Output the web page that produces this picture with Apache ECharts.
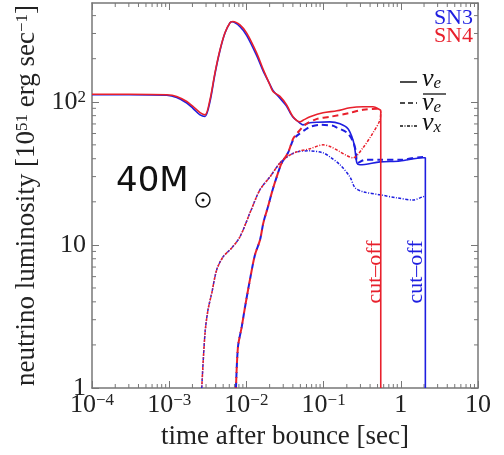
<!DOCTYPE html>
<html>
<head>
<meta charset="utf-8">
<script src="https://cdn.jsdelivr.net/npm/echarts@6/dist/echarts.min.js"></script>
<style>
html, body { margin: 0; padding: 0; background: #fff; }
#main { width: 504px; height: 455px; }
</style>
</head>
<body>
<div id="main"></div>
<script>
// [time after bounce (s), luminosity (1e51 erg/s)]
var sn3_nue = [[1e-4,112],[3e-4,112],[9.3e-4,111],[1.25e-3,107],[1.69e-3,98],[2.03e-3,90],[2.51e-3,81],[2.91e-3,78.9],[3.37e-3,100],[3.92e-3,157],[4.55e-3,228],[5.28e-3,302],[6.14e-3,357],[6.5e-3,362],[8.26e-3,335],[1.01e-2,290],[1.36e-2,210],[1.64e-2,165],[2.02e-2,132],[2.21e-2,120],[2.72e-2,106],[3.32e-2,93],[3.67e-2,84],[4.02e-2,78],[4.94e-2,71],[5.41e-2,69],[6.67e-2,71.3],[8.22e-2,72],[0.121,72.4],[0.163,70.2],[0.207,64.8],[0.24,54.2],[0.255,46.2],[0.27,37.4],[0.296,36.3],[0.538,38],[0.977,38.6],[1.94,40.6],[2.08,40.6],[2.08,1]];
var sn4_nue = [[1e-4,113],[3e-4,113],[9.3e-4,112],[1.25e-3,109],[1.69e-3,100.5],[2.03e-3,92.7],[2.51e-3,84],[2.91e-3,81],[3.37e-3,103],[3.92e-3,160],[4.55e-3,231],[5.28e-3,304],[6.14e-3,357],[6.65e-3,364],[8.26e-3,345],[1.01e-2,302],[1.36e-2,219],[1.66e-2,167],[2.02e-2,131],[2.21e-2,118],[2.72e-2,109],[3.32e-2,95],[4.02e-2,78.5],[4.94e-2,72.4],[5.6e-2,75],[6.67e-2,78.5],[9.82e-2,83.7],[0.149,86.5],[0.22,90.8],[0.324,92.2],[0.436,92.2],[0.538,87.9],[0.55,86.5],[0.55,1]];
var sn3_anue = [[7.33e-3,1],[7.78e-3,1.94],[8.69e-3,2.67],[9.6e-3,3.68],[1.11e-2,5.69],[1.29e-2,8.51],[1.5e-2,10.8],[1.66e-2,14.3],[1.9e-2,18.4],[2.13e-2,23.1],[2.47e-2,29.9],[2.87e-2,37.4],[3.46e-2,44],[4.02e-2,54],[4.52e-2,58],[5.75e-2,63.7],[6.67e-2,66.8],[8.98e-2,69],[0.132,68],[0.149,66],[0.2,61],[0.24,53],[0.262,45],[0.275,37.4],[0.344,39.3],[0.538,39.3],[0.977,39.3],[1.94,41.2],[2.08,41.2]];
var sn4_anue = [[7.33e-3,1],[7.78e-3,1.94],[8.69e-3,2.67],[9.6e-3,3.68],[1.11e-2,5.69],[1.29e-2,8.51],[1.5e-2,10.8],[1.66e-2,14.3],[1.9e-2,18.4],[2.13e-2,23.1],[2.47e-2,29.9],[2.87e-2,37.4],[3.46e-2,44],[4.02e-2,55],[4.52e-2,60],[5.75e-2,69],[8.22e-2,76],[0.121,78.5],[0.22,83.7],[0.324,87.9],[0.49,89.3],[0.55,88]];
var sn3_nux = [[2.64e-3,1],[2.91e-3,2.42],[3.18e-3,3.51],[3.56e-3,4.61],[4.12e-3,6.68],[4.98e-3,8.24],[6.45e-3,9.52],[8.26e-3,11.4],[1.11e-2,16.7],[1.5e-2,24.3],[2.02e-2,29.9],[2.72e-2,37.4],[3.36e-2,41.2],[4.52e-2,44.7],[6.67e-2,45.4],[9.82e-2,44],[0.121,41.2],[0.163,36.3],[0.22,29.8],[0.255,25.1],[0.324,23.5],[0.538,22.4],[0.893,21.3],[1.44,20.6],[1.94,21.7],[2.08,22]];
var sn4_nux = [[2.64e-3,1],[2.91e-3,2.42],[3.18e-3,3.51],[3.56e-3,4.61],[4.12e-3,6.68],[4.98e-3,8.24],[6.45e-3,9.52],[8.26e-3,11.4],[1.11e-2,16.7],[1.5e-2,24.3],[2.02e-2,29.9],[2.72e-2,37.4],[3.36e-2,41.2],[4.52e-2,44.7],[6.67e-2,47],[9.82e-2,50],[0.121,48.7],[0.16,45],[0.2,42],[0.24,40.6],[0.324,47.7],[0.436,60.7],[0.538,74.8],[0.55,86]];

var xMin = 1e-4, xMax = 10;
var yMin = 1, yMax = 490;

var RED = '#e8202c', BLUE = '#1e1ee0', FRAME = '#777';
var SERIF = 'Liberation Serif';

// minor tick values 2..9 per decade
var xMinor = [], yMinor = [];
for (var d = -4; d < 1; d++) for (var k = 2; k < 10; k++) xMinor.push([k * Math.pow(10, d), 1]);
for (var d2 = 0; d2 < 3; d2++) for (var k2 = 2; k2 < 10; k2++) if (k2 * Math.pow(10, d2) < yMax) yMinor.push([1e-4, k2 * Math.pow(10, d2)]);

function powLabel(v) {
    var e = Math.round(Math.log10(v));
    if (e === 0) return '{b|1}';
    if (e === 1) return '{b|10}';
    return '{b|10}{s|' + (e < 0 ? '\u2212' + (-e) : e) + '}';
}

var labelRich = {
    b: { fontSize: 26, fontFamily: SERIF, color: '#222', lineHeight: 26 },
    s: { fontSize: 17, fontFamily: SERIF, color: '#222', verticalAlign: 'top', lineHeight: 16 }
};

function minorXItem(params, api) {
    var cs = params.coordSys;
    var x = api.coord([api.value(0), 1])[0];
    var b = cs.y + cs.height, t = cs.y;
    return { type: 'group', children: [
        { type: 'line', shape: { x1: x, y1: b, x2: x, y2: b - 4 }, style: { stroke: FRAME, lineWidth: 1 } },
        { type: 'line', shape: { x1: x, y1: t, x2: x, y2: t + 4 }, style: { stroke: FRAME, lineWidth: 1 } }
    ]};
}
function minorYItem(params, api) {
    var cs = params.coordSys;
    var y = api.coord([1e-4, api.value(1)])[1];
    var l = cs.x, r = cs.x + cs.width;
    return { type: 'group', children: [
        { type: 'line', shape: { x1: l, y1: y, x2: l + 4, y2: y }, style: { stroke: FRAME, lineWidth: 1 } },
        { type: 'line', shape: { x1: r, y1: y, x2: r - 4, y2: y }, style: { stroke: FRAME, lineWidth: 1 } }
    ]};
}

function lineSeries(name, data, color, type, width, offset) {
    return {
        name: name, type: 'line', data: data, showSymbol: false, symbol: 'none',
        smooth: 0.3, animation: false,
        lineStyle: { color: color, width: width, type: type, dashOffset: offset || 0 }
    };
}

var axisLine = { show: true, lineStyle: { color: FRAME, width: 1.5 } };
var majorTick = { show: true, inside: true, length: 7, lineStyle: { color: FRAME, width: 1 } };
var nuRich = {
    n: { fontSize: 26, fontStyle: 'italic', fontFamily: SERIF, fill: '#111' },
    s: { fontSize: 17, fontStyle: 'italic', fontFamily: SERIF, fill: '#111', verticalAlign: 'bottom' }
};

var chart = echarts.init(document.getElementById('main'));
option = {
    animation: false,
    grid: { left: 92, right: 26, top: 3, bottom: 67, containLabel: false, outerBoundsMode: 'none' },
    xAxis: [{
        type: 'log', logBase: 10, min: xMin, max: xMax,
        axisLine: axisLine, axisTick: majorTick, splitLine: { show: false },
        axisLabel: { formatter: powLabel, rich: labelRich, margin: 4, showMinLabel: true, showMaxLabel: true },
        name: 'time after bounce [sec]', nameLocation: 'middle', nameGap: 35,
        nameTextStyle: { fontSize: 27, fontFamily: SERIF, color: '#222' }
    }, {
        type: 'log', logBase: 10, min: xMin, max: xMax, position: 'top',
        axisLine: axisLine, axisTick: majorTick, axisLabel: { show: false }, splitLine: { show: false }
    }],
    yAxis: [{
        type: 'log', logBase: 10, min: yMin, max: yMax,
        axisLine: axisLine, axisTick: majorTick, splitLine: { show: false },
        axisLabel: { formatter: powLabel, rich: labelRich, margin: 6, showMaxLabel: false },
        name: '{t|neutrino luminosity [10}{s|51}{t| erg sec}{s|\u22121}{t|]}',
        nameLocation: 'middle', nameRotate: 90, nameGap: 30,
        nameTextStyle: { rich: {
            t: { fontSize: 27, fontFamily: SERIF, color: '#222', lineHeight: 27 },
            s: { fontSize: 17, fontFamily: SERIF, color: '#222', verticalAlign: 'top', lineHeight: 16 }
        } }
    }, {
        type: 'log', logBase: 10, min: yMin, max: yMax, position: 'right',
        axisLine: axisLine, axisTick: majorTick, axisLabel: { show: false }, splitLine: { show: false }
    }],
    series: [
        lineSeries('SN3 nue', sn3_nue, BLUE, 'solid', 1.6),
        lineSeries('SN3 anue', sn3_anue, BLUE, [6, 4], 2),
        lineSeries('SN3 nux', sn3_nux, BLUE, [3, 1.5, 1, 1.5], 1.5),
        lineSeries('SN4 nue', sn4_nue, RED, 'solid', 1.6),
        lineSeries('SN4 anue', sn4_anue, RED, [6, 4], 2, 5),
        lineSeries('SN4 nux', sn4_nux, RED, [3, 1.5, 1, 1.5], 1.5, 3),
        { type: 'custom', data: xMinor, renderItem: minorXItem, silent: true, animation: false },
        { type: 'custom', data: yMinor, renderItem: minorYItem, silent: true, animation: false }
    ],
    graphic: [
        { type: 'text', right: 31, top: 7, style: { text: 'SN3', fill: BLUE, font: '22px "Liberation Serif"' } },
        { type: 'text', right: 31, top: 25, style: { text: 'SN4', fill: RED, font: '22px "Liberation Serif"' } },
        // legend keys
        { type: 'line', shape: { x1: 400, y1: 82, x2: 417, y2: 82 }, style: { stroke: '#111', lineWidth: 1.5 } },
        { type: 'line', shape: { x1: 400, y1: 103, x2: 417, y2: 103 }, style: { stroke: '#111', lineWidth: 1.5, lineDash: [5, 3] } },
        { type: 'line', shape: { x1: 400, y1: 126, x2: 417, y2: 126 }, style: { stroke: '#111', lineWidth: 1.3, lineDash: [3, 1.5, 1, 1.5] } },
        { type: 'text', x: 422, y: 66, style: { text: '{n|\u03bd}{s|e}', rich: nuRich } },
        { type: 'line', shape: { x1: 423, y1: 94, x2: 446, y2: 94 }, style: { stroke: '#111', lineWidth: 1.3 } },
        { type: 'text', x: 422, y: 90, style: { text: '{n|\u03bd}{s|e}', rich: nuRich } },
        { type: 'text', x: 422, y: 110, style: { text: '{n|\u03bd}{s|x}', rich: nuRich } },
        // mass label
        { type: 'text', x: 116, y: 165, style: { text: '40M', fill: '#111', font: '34px "DejaVu Sans"' } },
        { type: 'circle', shape: { cx: 203, cy: 200, r: 7 }, style: { fill: 'none', stroke: '#111', lineWidth: 1.4 } },
        { type: 'circle', shape: { cx: 203, cy: 200, r: 1.5 }, style: { fill: '#111' } },
        // cut-off labels
        { type: 'text', x: 375, y: 272, rotation: Math.PI / 2, style: { text: 'cut\u2013off', fill: RED, font: '22px "Liberation Serif"', align: 'center', verticalAlign: 'middle' } },
        { type: 'text', x: 416, y: 272, rotation: Math.PI / 2, style: { text: 'cut\u2013off', fill: BLUE, font: '22px "Liberation Serif"', align: 'center', verticalAlign: 'middle' } }
    ]
};
chart.setOption(option);
</script>
</body>
</html>
